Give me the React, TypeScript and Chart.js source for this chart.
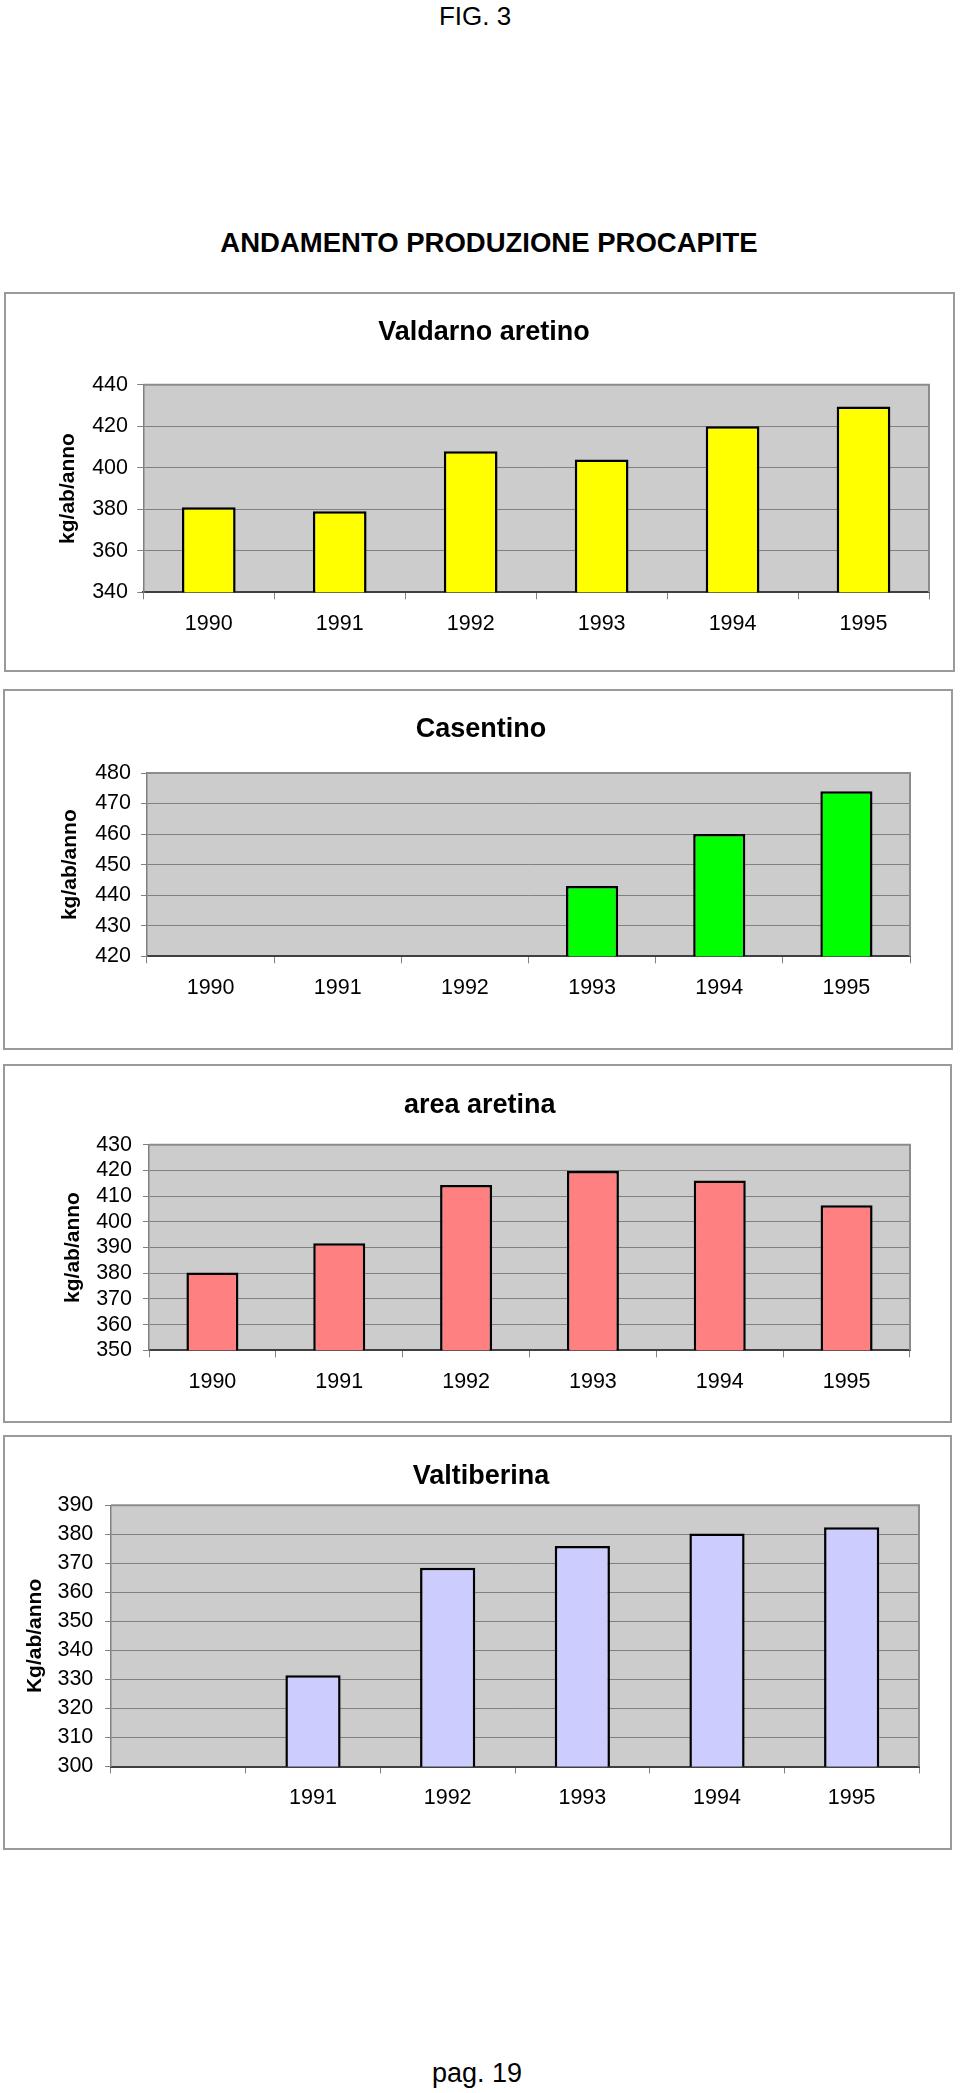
import React, { useEffect, useRef } from 'react';
import { Chart, registerables } from 'chart.js';

Chart.register(...registerables);

// ---------- data ----------
const years = ['1990', '1991', '1992', '1993', '1994', '1995'];
const valtiberinaLabels = ['', '1991', '1992', '1993', '1994', '1995'];

const valdarnoValues = [381, 379, 408, 404, 420, 429.5];
const casentinoValues = [null, null, null, 443, 460, 474];
const areaAretinaValues = [380.3, 391.7, 414.3, 419.8, 416.1, 406.4];
const valtiberinaValues = [null, 331.4, 368.5, 376, 380.3, 382.4];

// [min, max, step]
const valdarnoAxis = [340, 440, 20];
const casentinoAxis = [420, 480, 10];
const areaAretinaAxis = [350, 430, 10];
const valtiberinaAxis = [300, 390, 10];

const FONT = '"Liberation Sans", Arial, Helvetica, sans-serif';

type Spec = {
  title: string;
  yTitle: string;
  labels: string[];
  values: (number | null)[];
  axis: number[];
  color: string;
  box: { left: number; top: number; width: number; height: number };
  padL: number;
  padR: number;
  yWidth: number;
  xHeight: number;
  titlePadTop: number;
  titlePadBottom: number;
  yTitlePad: number;
  yTickPad: number;
};

const panels: Spec[] = [
  {
    title: 'Valdarno aretino', yTitle: 'kg/ab/anno', labels: years, values: valdarnoValues,
    axis: valdarnoAxis, color: '#FFFF00',
    box: { left: 4, top: 292, width: 951, height: 380 },
    padL: 35, padR: 26, yWidth: 104.3, xHeight: 79.7,
    titlePadTop: 24.8, titlePadBottom: 35.5, yTitlePad: 16.4, yTickPad: 9.3,
  },
  {
    title: 'Casentino', yTitle: 'kg/ab/anno', labels: years, values: casentinoValues,
    axis: casentinoAxis, color: '#00FF00',
    box: { left: 3, top: 689, width: 950, height: 361 },
    padL: 49, padR: 43, yWidth: 95, xHeight: 93.7,
    titlePadTop: 24.8, titlePadBottom: 26.8, yTitlePad: 5.9, yTickPad: 10,
  },
  {
    title: 'area aretina', yTitle: 'kg/ab/anno', labels: years, values: areaAretinaValues,
    axis: areaAretinaAxis, color: '#FF8080',
    box: { left: 3, top: 1064, width: 949, height: 359 },
    padL: 46.6, padR: 42, yWidth: 99.4, xHeight: 72.7,
    titlePadTop: 25.5, titlePadBottom: 22.8, yTitlePad: 11.3, yTickPad: 11,
  },
  {
    title: 'Valtiberina', yTitle: 'Kg/ab/anno', labels: valtiberinaLabels, values: valtiberinaValues,
    axis: valtiberinaAxis, color: '#CCCCFF',
    box: { left: 3, top: 1435, width: 949, height: 415 },
    padL: 40, padR: 33, yWidth: 68, xHeight: 83.5,
    titlePadTop: 25.8, titlePadBottom: 12.1, yTitlePad: -20.6, yTickPad: 11.7,
  },
];

const plotFrame = {
  id: 'plotFrame',
  beforeDraw(chart: any) {
    const { ctx, chartArea: a } = chart;
    ctx.save();
    ctx.fillStyle = '#CCCCCC';
    ctx.fillRect(a.left, a.top, a.right - a.left, a.bottom - a.top);
    ctx.restore();
  },
  afterDatasetsDraw(chart: any) {
    const { ctx, chartArea: a } = chart;
    ctx.save();
    ctx.strokeStyle = '#8c8c8c';
    ctx.lineWidth = 2;
    ctx.beginPath();
    ctx.moveTo(a.left, a.top);
    ctx.lineTo(a.right, a.top);
    ctx.lineTo(a.right, a.bottom);
    ctx.stroke();
    ctx.restore();
  },
};

function Panel({ spec }: { spec: Spec }) {
  const ref = useRef<HTMLCanvasElement | null>(null);
  useEffect(() => {
    if (!ref.current) return;
    const s = spec;
    const chart = new Chart(ref.current, {
      type: 'bar',
      data: {
        labels: s.labels,
        datasets: [
          {
            data: s.values as any,
            backgroundColor: s.color,
            borderColor: '#000000',
            borderWidth: 2.5,
            borderSkipped: false,
            barPercentage: 0.41,
            categoryPercentage: 1,
          },
        ],
      },
      options: {
        animation: false,
        responsive: false,
        maintainAspectRatio: false,
        layout: { padding: { left: s.padL, right: s.padR, top: 0, bottom: 0 } },
        plugins: {
          legend: { display: false },
          tooltip: { enabled: false },
          title: {
            display: true,
            text: s.title,
            color: '#000000',
            font: { family: FONT, size: 27, weight: 'bold', lineHeight: 1.2 },
            padding: { top: s.titlePadTop, bottom: s.titlePadBottom },
          },
        },
        scales: {
          x: {
            type: 'category',
            offset: true,
            grid: {
              offset: true,
              drawOnChartArea: false,
              drawTicks: true,
              tickLength: 7,
              color: '#808080',
              lineWidth: 1,
            },
            border: { display: true, color: '#404040', width: 2 },
            ticks: {
              autoSkip: false,
              maxRotation: 0,
              padding: 11.4,
              color: '#000000',
              font: { family: FONT, size: 21.5, lineHeight: 1.2 },
            },
            afterFit: (scale: any) => { scale.height = s.xHeight; },
          },
          y: {
            min: s.axis[0],
            max: s.axis[1],
            grid: { color: '#808080', lineWidth: 1, tickLength: 6, drawTicks: true },
            border: { display: true, color: '#808080', width: 1.5 },
            ticks: {
              stepSize: s.axis[2],
              autoSkip: false,
              padding: s.yTickPad,
              color: '#000000',
              font: { family: FONT, size: 21.5, lineHeight: 1.2 },
            },
            title: {
              display: true,
              text: s.yTitle,
              color: '#000000',
              font: { family: FONT, size: 21, weight: 'bold', lineHeight: 1.2 },
              padding: { top: s.yTitlePad, bottom: 0 },
            },
            afterFit: (scale: any) => { scale.width = s.yWidth; },
          },
        },
      } as any,
      plugins: [plotFrame],
    });
    return () => chart.destroy();
  }, [spec]);

  const b = spec.box;
  return (
    <div style={{ position: 'absolute', left: b.left, top: b.top, width: b.width, height: b.height }}>
      <canvas ref={ref} width={b.width} height={b.height} style={{ display: 'block', width: b.width, height: b.height }} />
      <div
        style={{
          position: 'absolute', left: 0, top: 0, right: 0, bottom: 0,
          boxSizing: 'border-box', border: '2px solid #9a9a9a', pointerEvents: 'none',
        }}
      />
    </div>
  );
}

function Text({ text, cx, cy, size, bold }: { text: string; cx: number; cy: number; size: number; bold?: boolean }) {
  return (
    <div
      style={{
        position: 'absolute', left: cx - 450, top: cy - size / 2, width: 900, textAlign: 'center',
        fontFamily: FONT, fontSize: size, lineHeight: `${size}px`, fontWeight: bold ? 'bold' : 'normal',
        color: '#000', whiteSpace: 'nowrap',
      }}
    >
      {text}
    </div>
  );
}

export default function App() {
  return (
    <div style={{ position: 'absolute', left: 0, top: 0, width: 960, height: 2093, background: '#ffffff', overflow: 'hidden' }}>
      <Text text="FIG. 3" cx={475} cy={16} size={26} />
      <Text text="ANDAMENTO PRODUZIONE PROCAPITE" cx={489} cy={243} size={27.5} bold />
      {panels.map((p) => (
        <Panel key={p.title} spec={p} />
      ))}
      <Text text="pag. 19" cx={477} cy={2073} size={27} />
    </div>
  );
}
